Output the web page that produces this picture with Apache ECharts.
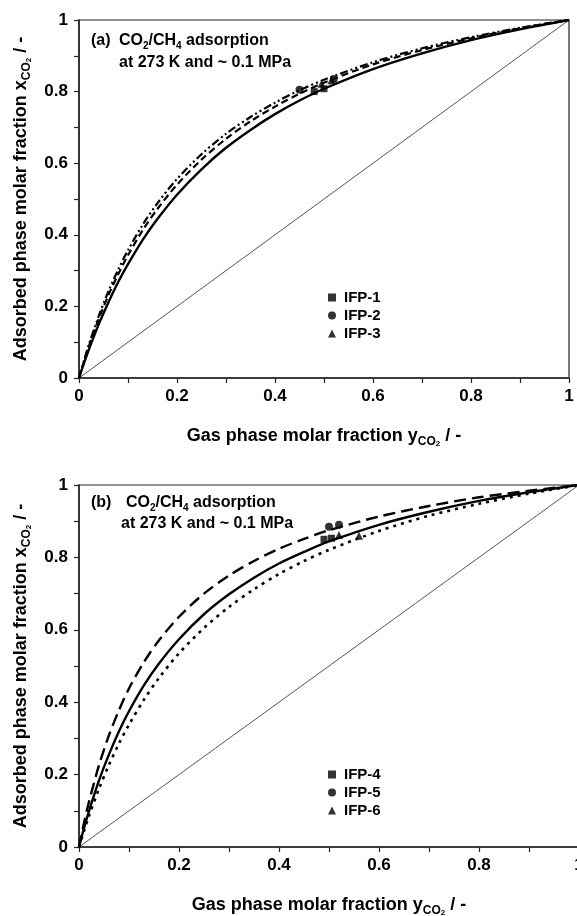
<!DOCTYPE html>
<html><head><meta charset="utf-8">
<script src="https://cdn.jsdelivr.net/npm/echarts@6/dist/echarts.min.js"></script>
<style>html,body{margin:0;padding:0;background:#fff}#c{width:577px;height:916px}</style>
</head><body><div id="c"></div>
<script>
// ---- data ----
const curveX = [0, 0.01, 0.02, 0.04, 0.06, 0.08, 0.1, 0.13, 0.16, 0.2, 0.25, 0.3, 0.35, 0.4, 0.45, 0.5, 0.6, 0.7, 0.8, 0.9, 1.0];
// panel (a)
const aSolid   = [0, 0.041, 0.079, 0.149, 0.211, 0.268, 0.318, 0.386, 0.444, 0.512, 0.583, 0.643, 0.693, 0.737, 0.775, 0.808, 0.863, 0.907, 0.944, 0.974, 1];
const aDashed  = [0, 0.045, 0.088, 0.164, 0.231, 0.290, 0.343, 0.413, 0.472, 0.540, 0.610, 0.668, 0.717, 0.758, 0.794, 0.825, 0.876, 0.916, 0.949, 0.977, 1];
const aDashDot = [0, 0.048, 0.093, 0.172, 0.242, 0.303, 0.357, 0.428, 0.488, 0.556, 0.625, 0.682, 0.729, 0.769, 0.804, 0.833, 0.882, 0.921, 0.952, 0.978, 1];
// panel (b)
const bDashed  = [0, 0.066, 0.125, 0.226, 0.309, 0.378, 0.438, 0.511, 0.571, 0.636, 0.700, 0.750, 0.790, 0.824, 0.851, 0.875, 0.913, 0.942, 0.966, 0.984, 1];
const bSolid   = [0, 0.052, 0.099, 0.184, 0.256, 0.320, 0.375, 0.447, 0.507, 0.574, 0.643, 0.698, 0.744, 0.783, 0.815, 0.844, 0.890, 0.926, 0.956, 0.980, 1];
const bDotted  = [0, 0.044, 0.086, 0.161, 0.227, 0.286, 0.338, 0.407, 0.467, 0.535, 0.605, 0.663, 0.712, 0.754, 0.790, 0.821, 0.873, 0.915, 0.948, 0.976, 1];
const diagonal = [[0, 0], [1, 1]];
// experimental points [y_gas, x_ads]
const ifp1 = [[0.48, 0.800], [0.50, 0.808]];
const ifp2 = [[0.45, 0.805], [0.52, 0.835]];
const ifp3 = [[0.495, 0.822], [0.515, 0.832]];
const ifp4 = [[0.49, 0.850], [0.505, 0.853]];
const ifp5 = [[0.50, 0.885], [0.52, 0.890]];
const ifp6 = [[0.52, 0.862], [0.56, 0.860]];
const xTicks = ['0', '0.2', '0.4', '0.6', '0.8', '1'];

// ---- chart ----
const pair = (xs, ys) => xs.map((x, i) => [x, ys[i]]);
const FONT = 'Liberation Sans, Arial, sans-serif';
const chart = echarts.init(document.getElementById('c'), null, {renderer: 'canvas'});

const nameRich = {
  b: {fontFamily: FONT, fontWeight: 'bold', fontSize: 18, color: '#000', lineHeight: 24, verticalAlign: 'middle'},
  s: {fontFamily: FONT, fontWeight: 'bold', fontSize: 12, color: '#000', lineHeight: 10, verticalAlign: 'bottom'},
  ss: {fontFamily: FONT, fontWeight: 'bold', fontSize: 8, color: '#000', lineHeight: 4, verticalAlign: 'bottom'}
};
function xAx(gi) {
  return {
    type: 'value', gridIndex: gi, min: 0, max: 1, interval: 0.2,
    axisLine: {show: true, lineStyle: {color: '#222', width: 1.5}},
    axisTick: {show: true, inside: false, length: 5, lineStyle: {color: '#222', width: 1.2}},
    minorTick: {show: true, splitNumber: 2, length: 5, lineStyle: {color: '#222', width: 1.2}},
    splitLine: {show: false},
    axisLabel: {margin: 10, color: '#000', fontFamily: FONT, fontWeight: 'bold', fontSize: 17,
      formatter: v => xTicks[Math.round(v * 5)]},
    name: '{b|Gas phase molar fraction y}{s|CO}{ss|2}{b| / -}',
    nameLocation: 'middle', nameGap: 46,
    nameTextStyle: {rich: nameRich}
  };
}
function yAx(gi) {
  return {
    type: 'value', gridIndex: gi, min: 0, max: 1, interval: 0.2,
    axisLine: {show: true, lineStyle: {color: '#222', width: 1.5}},
    axisTick: {show: true, inside: false, length: 5, lineStyle: {color: '#222', width: 1.2}},
    minorTick: {show: true, splitNumber: 2, length: 5, lineStyle: {color: '#222', width: 1.2}},
    splitLine: {show: false},
    axisLabel: {margin: 11, color: '#000', fontFamily: FONT, fontWeight: 'bold', fontSize: 17,
      formatter: v => xTicks[Math.round(v * 5)]},
    name: '{b|Adsorbed phase molar fraction x}{s|CO}{ss|2}{b| / -}',
    nameLocation: 'middle', nameGap: 46, nameRotate: 90,
    nameTextStyle: {rich: nameRich}
  };
}
function line(name, gi, data, type, width) {
  return {name, type: 'line', xAxisIndex: gi, yAxisIndex: gi, data, smooth: 0.3, showSymbol: false,
    symbol: 'none', silent: true, z: 3,
    lineStyle: {color: '#000', width: width || 2.4, type: type || 'solid'}};
}
function pts(name, gi, data, symbol, size) {
  return {name, type: 'scatter', xAxisIndex: gi, yAxisIndex: gi, data, symbol, symbolSize: size,
    itemStyle: {color: '#000'}, z: 5};
}
const richTitle = {
  b: {fontFamily: FONT, fontWeight: 'bold', fontSize: 16, color: '#000', lineHeight: 20, verticalAlign: 'middle'},
  s: {fontFamily: FONT, fontWeight: 'bold', fontSize: 10, color: '#000', lineHeight: 8, verticalAlign: 'bottom'}
};
function legendFor(names, top) {
  return {
    data: names.map((n, i) => ({name: n, icon: ['rect', 'circle', 'triangle'][i]})),
    orient: 'vertical', left: 323, top, itemWidth: 8, itemHeight: 8, itemGap: 3,
    textStyle: {fontFamily: FONT, fontWeight: 'bold', fontSize: 15, color: '#000', padding: [0, 0, 0, 3]},
    selectedMode: false
  };
}

const option = {
  animation: false,
  backgroundColor: '#fff',
  grid: [
    {left: 79, top: 20, width: 490, height: 358, show: true, borderColor: '#222', borderWidth: 1.2, backgroundColor: 'transparent', outerBoundsMode: 'none', containLabel: false},
    {left: 79, top: 485, width: 500, height: 362, show: true, borderColor: '#222', borderWidth: 1.2, backgroundColor: 'transparent', outerBoundsMode: 'none', containLabel: false}
  ],
  xAxis: [xAx(0), xAx(1)],
  yAxis: [yAx(0), yAx(1)],
  legend: [legendFor(['IFP-1', 'IFP-2', 'IFP-3'], 285), legendFor(['IFP-4', 'IFP-5', 'IFP-6'], 762)],
  graphic: [
    {type: 'text', left: 91, top: 33, style: {text: '{b|(a)}', rich: richTitle}},
    {type: 'text', left: 119, top: 33, style: {text: '{b|CO}{s|2}{b|/CH}{s|4}{b| adsorption}', rich: richTitle}},
    {type: 'text', left: 119, top: 55, style: {text: '{b|at 273 K and ~ 0.1 MPa}', rich: richTitle}},
    {type: 'text', left: 91, top: 495, style: {text: '{b|(b)}', rich: richTitle}},
    {type: 'text', left: 126, top: 495, style: {text: '{b|CO}{s|2}{b|/CH}{s|4}{b| adsorption}', rich: richTitle}},
    {type: 'text', left: 121, top: 516, style: {text: '{b|at 273 K and ~ 0.1 MPa}', rich: richTitle}}
  ],
  series: [
    {type: 'line', xAxisIndex: 0, yAxisIndex: 0, data: diagonal, symbol: 'none', silent: true, lineStyle: {color: '#555', width: 1}},
    line('a-solid', 0, pair(curveX, aSolid), 'solid', 2.4),
    line('a-dashed', 0, pair(curveX, aDashed), [7, 4], 2.2),
    line('a-dashdot', 0, pair(curveX, aDashDot), [8, 3, 2, 3, 2, 3], 2.2),
    pts('IFP-1', 0, ifp1, 'rect', 7),
    pts('IFP-2', 0, ifp2, 'circle', 8),
    pts('IFP-3', 0, ifp3, 'triangle', 8),
    {type: 'line', xAxisIndex: 1, yAxisIndex: 1, data: diagonal, symbol: 'none', silent: true, lineStyle: {color: '#555', width: 1}},
    line('b-dashed', 1, pair(curveX, bDashed), [12, 6], 2.4),
    line('b-solid', 1, pair(curveX, bSolid), 'solid', 2.4),
    line('b-dotted', 1, pair(curveX, bDotted), [3, 5], 2.6),
    pts('IFP-4', 1, ifp4, 'rect', 7),
    pts('IFP-5', 1, ifp5, 'circle', 8),
    pts('IFP-6', 1, ifp6, 'triangle', 8)
  ]
};
chart.setOption(option);
</script>
</body></html>
